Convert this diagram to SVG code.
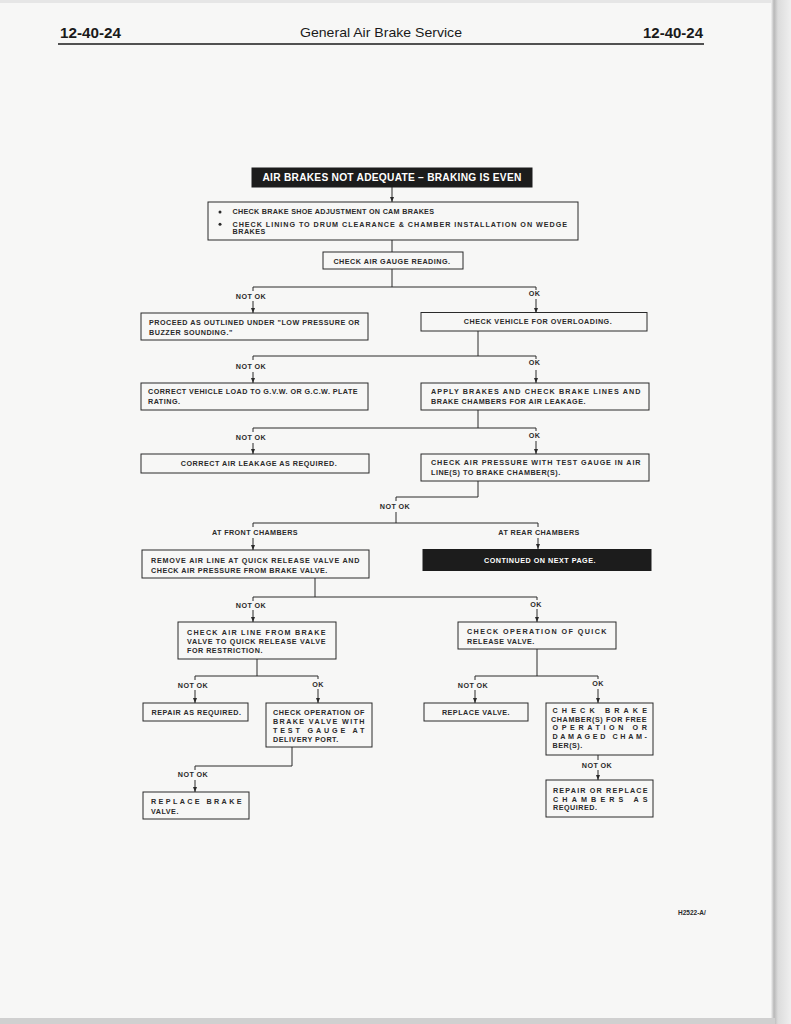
<svg xmlns="http://www.w3.org/2000/svg" width="791" height="1024" viewBox="0 0 791 1024">
<defs>
<style>
.bg{fill:#f7f7f6}
.b{fill:none;stroke:#2a2a2a;stroke-width:1}
.blk{fill:#1c1c1c;stroke:#1c1c1c;stroke-width:1}
.t{font-family:"Liberation Sans",Arial,Helvetica,sans-serif;font-weight:bold;font-size:7.2px;letter-spacing:0.5px;fill:#2a2a2a}
.tt{font-family:"Liberation Sans",Arial,Helvetica,sans-serif;font-weight:bold;font-size:10.2px;letter-spacing:0.2px;fill:#ffffff;text-anchor:middle}
.fig{font-family:"Liberation Sans",Arial,Helvetica,sans-serif;font-weight:bold;font-size:6.5px;fill:#2a2a2a}
.w{fill:#ffffff}
.c{text-anchor:middle}
.l{font-family:"Liberation Sans",Arial,Helvetica,sans-serif;font-weight:bold;font-size:7.2px;letter-spacing:0.4px;fill:#2a2a2a;text-anchor:middle}
.h{font-family:"Liberation Sans",Arial,Helvetica,sans-serif;fill:#1a1a1a}
.cn{fill:none;stroke:#2a2a2a;stroke-width:1}
.ar{marker-end:url(#ah)}
</style>
<marker id="ah" markerWidth="5" markerHeight="4" refX="5" refY="2" orient="auto" markerUnits="userSpaceOnUse">
<path d="M0,0 L5,2 L0,4 z" fill="#2a2a2a"/>
</marker>
<linearGradient id="edge" x1="0" y1="0" x2="1" y2="0">
<stop offset="0" stop-color="#f2f2f2"/>
<stop offset="0.15" stop-color="#b8b8b8"/>
<stop offset="0.35" stop-color="#dcdcdc"/>
<stop offset="1" stop-color="#efefef"/>
</linearGradient>
</defs>

<rect class="bg" x="0" y="0" width="791" height="1024"/>
<rect x="0" y="0" width="791" height="3" fill="#e6e6e6"/>
<rect x="771" y="0" width="20" height="1024" fill="url(#edge)"/>
<rect x="0" y="1018" width="775" height="6" fill="#d0d0d0"/>

<g id="header">
<text class="h" x="60" y="37.5" font-size="14.5" font-weight="bold" textLength="61" lengthAdjust="spacingAndGlyphs">12-40-24</text>
<text class="h" x="381" y="37" font-size="13.5" text-anchor="middle" textLength="162" lengthAdjust="spacingAndGlyphs">General Air Brake Service</text>
<text class="h" x="643" y="37.5" font-size="14.5" font-weight="bold" textLength="60" lengthAdjust="spacingAndGlyphs">12-40-24</text>
<line x1="58" y1="44" x2="704" y2="44" stroke="#1a1a1a" stroke-width="1.6"/>
</g>

<g id="connectors">
<path class="cn ar" d="M392,187 V202"/>
<path class="cn" d="M392,240 V252"/>
<path class="cn" d="M392,269 V287 M253,291 V287 H536 V290"/>
<path class="cn ar" d="M253,301 V313"/>
<path class="cn ar" d="M536,299 V313"/>
<path class="cn" d="M478,331 V356 M253,360 V356 H536 V359"/>
<path class="cn ar" d="M253,372 V383"/>
<path class="cn ar" d="M536,370 V383"/>
<path class="cn" d="M478,410 V428 M253,432 V428 H536 V431"/>
<path class="cn ar" d="M253,443 V454"/>
<path class="cn ar" d="M536,441 V454"/>
<path class="cn" d="M478,481 V497 H396 V501"/>
<path class="cn" d="M396,512 V523 M253,527 V523 H538 V527"/>
<path class="cn ar" d="M253,538 V550"/>
<path class="cn ar" d="M538,538 V549"/>
<path class="cn" d="M315,578 V597 M253,601 V597 H537 V600"/>
<path class="cn ar" d="M253,610 V622"/>
<path class="cn ar" d="M537,609 V622"/>
<path class="cn" d="M257,659 V676 M195,680 V676 H318 V679"/>
<path class="cn ar" d="M195,690 V703"/>
<path class="cn ar" d="M318,689 V703"/>
<path class="cn" d="M537,649 V676 M475,680 V676 H598 V679"/>
<path class="cn ar" d="M475,690 V703"/>
<path class="cn ar" d="M598,689 V703"/>
<path class="cn" d="M292,747 V766 H195 V770"/>
<path class="cn ar" d="M195,780 V792"/>
<path class="cn" d="M598,755 V760"/>
<path class="cn ar" d="M598,770 V780"/>
</g>

<g id="labels">
<text class="l" x="251" y="298.5">NOT OK</text>
<text class="l" x="534.5" y="296">OK</text>
<text class="l" x="251" y="369">NOT OK</text>
<text class="l" x="534.5" y="365">OK</text>
<text class="l" x="251" y="440">NOT OK</text>
<text class="l" x="534.5" y="438">OK</text>
<text class="l" x="395" y="509">NOT OK</text>
<text class="l" x="255" y="535">AT FRONT CHAMBERS</text>
<text class="l" x="539" y="535">AT REAR CHAMBERS</text>
<text class="l" x="251" y="607.5">NOT OK</text>
<text class="l" x="536" y="606.5">OK</text>
<text class="l" x="193" y="687.5">NOT OK</text>
<text class="l" x="318" y="686.5">OK</text>
<text class="l" x="473" y="687.5">NOT OK</text>
<text class="l" x="598" y="686">OK</text>
<text class="l" x="193" y="777">NOT OK</text>
<text class="l" x="597" y="767.5">NOT OK</text>
</g>

<g id="n-title">
<rect class="blk" x="252" y="168" width="280" height="19"/>
<text class="tt" x="392" y="181.3" textLength="259" lengthAdjust="spacing">AIR BRAKES NOT ADEQUATE – BRAKING IS EVEN</text>
</g>

<g id="n-checks">
<rect class="b" x="208" y="202" width="370" height="38"/>
<circle cx="220" cy="212" r="1.5" fill="#2a2a2a"/>
<circle cx="220" cy="224.2" r="1.5" fill="#2a2a2a"/>
<text class="t" x="232.5" y="214.4" textLength="202" lengthAdjust="spacing">CHECK BRAKE SHOE ADJUSTMENT ON CAM BRAKES</text>
<text class="t" x="232.5" y="226.6" textLength="335" lengthAdjust="spacing">CHECK LINING TO DRUM CLEARANCE &amp; CHAMBER INSTALLATION ON WEDGE</text>
<text class="t" x="232.5" y="234.4">BRAKES</text>
</g>

<g id="n-gauge">
<rect class="b" x="323" y="252" width="140" height="17"/>
<text class="t c" x="392" y="263.6">CHECK AIR GAUGE READING.</text>
</g>

<g id="n-proceed">
<rect class="b" x="141" y="313" width="227" height="27"/>
<text class="t" x="149" y="324.7" textLength="211" lengthAdjust="spacing">PROCEED AS OUTLINED UNDER "LOW PRESSURE OR</text>
<text class="t" x="149" y="334.7">BUZZER SOUNDING."</text>
</g>

<g id="n-overload">
<rect class="b" x="421" y="312.5" width="226" height="18.5"/>
<text class="t c" x="538" y="323.6">CHECK VEHICLE FOR OVERLOADING.</text>
</g>

<g id="n-vehload">
<rect class="b" x="141" y="383" width="227" height="27"/>
<text class="t" x="148" y="393.7" textLength="210" lengthAdjust="spacing">CORRECT VEHICLE LOAD TO G.V.W. OR G.C.W. PLATE</text>
<text class="t" x="148" y="403.7">RATING.</text>
</g>

<g id="n-apply">
<rect class="b" x="421" y="383" width="228" height="27"/>
<text class="t" x="431" y="394.2" textLength="210" lengthAdjust="spacing">APPLY BRAKES AND CHECK BRAKE LINES AND</text>
<text class="t" x="431" y="403.7">BRAKE CHAMBERS FOR AIR LEAKAGE.</text>
</g>

<g id="n-leak">
<rect class="b" x="141" y="454" width="228" height="19"/>
<text class="t c" x="259" y="466">CORRECT AIR LEAKAGE AS REQUIRED.</text>
</g>

<g id="n-pressure">
<rect class="b" x="421" y="454" width="228" height="27"/>
<text class="t" x="431" y="464.7" textLength="210" lengthAdjust="spacing">CHECK AIR PRESSURE WITH TEST GAUGE IN AIR</text>
<text class="t" x="431" y="475.2">LINE(S) TO BRAKE CHAMBER(S).</text>
</g>

<g id="n-remove">
<rect class="b" x="142" y="550" width="227" height="28"/>
<text class="t" x="151" y="562.7" textLength="209" lengthAdjust="spacing">REMOVE AIR LINE AT QUICK RELEASE VALVE AND</text>
<text class="t" x="151" y="573.2">CHECK AIR PRESSURE FROM BRAKE VALVE.</text>
</g>

<g id="n-continued">
<rect class="blk" x="423" y="549.5" width="228" height="21"/>
<text class="t w c" x="540" y="563">CONTINUED ON NEXT PAGE.</text>
</g>

<g id="n-airline">
<rect class="b" x="178" y="622" width="158" height="37"/>
<text class="t" x="187" y="634.5" textLength="139" lengthAdjust="spacing">CHECK AIR LINE FROM BRAKE</text>
<text class="t" x="187" y="643.5" textLength="139" lengthAdjust="spacing">VALVE TO QUICK RELEASE VALVE</text>
<text class="t" x="187" y="652.5">FOR RESTRICTION.</text>
</g>

<g id="n-quick">
<rect class="b" x="458" y="622" width="158" height="27"/>
<text class="t" x="467" y="634.2" textLength="140" lengthAdjust="spacing">CHECK OPERATION OF QUICK</text>
<text class="t" x="467" y="643.5">RELEASE VALVE.</text>
</g>

<g id="n-repair">
<rect class="b" x="143" y="703" width="105" height="18"/>
<text class="t c" x="196.5" y="714.7">REPAIR AS REQUIRED.</text>
</g>

<g id="n-brakevalve">
<rect class="b" x="266" y="703" width="106" height="44"/>
<text class="t" x="273" y="714.7" textLength="92" lengthAdjust="spacing">CHECK OPERATION OF</text>
<text class="t" x="273" y="723.7" textLength="92" lengthAdjust="spacing">BRAKE VALVE WITH</text>
<text class="t" x="273" y="732.7" textLength="92" lengthAdjust="spacing">TEST GAUGE AT</text>
<text class="t" x="273" y="741.7">DELIVERY PORT.</text>
</g>

<g id="n-replacevalve">
<rect class="b" x="424" y="703" width="104" height="18"/>
<text class="t c" x="476" y="714.5">REPLACE VALVE.</text>
</g>

<g id="n-chamber">
<rect class="b" x="546" y="703" width="107" height="52"/>
<text class="t" x="552.5" y="713.3" textLength="95" lengthAdjust="spacing">CHECK BRAKE</text>
<text class="t" x="551" y="721.7" textLength="96" lengthAdjust="spacing">CHAMBER(S) FOR FREE</text>
<text class="t" x="552.5" y="730" textLength="95" lengthAdjust="spacing">OPERATION OR</text>
<text class="t" x="552.5" y="738.6" textLength="95" lengthAdjust="spacing">DAMAGED CHAM-</text>
<text class="t" x="552.5" y="747.5">BER(S).</text>
</g>

<g id="n-replacebrake">
<rect class="b" x="143" y="792" width="106" height="27"/>
<text class="t" x="151" y="803.7" textLength="91" lengthAdjust="spacing">REPLACE BRAKE</text>
<text class="t" x="151" y="813.5">VALVE.</text>
</g>

<g id="n-repairreplace">
<rect class="b" x="546" y="780" width="107" height="37"/>
<text class="t" x="553" y="792.5" textLength="95" lengthAdjust="spacing">REPAIR OR REPLACE</text>
<text class="t" x="553" y="801.5" textLength="95" lengthAdjust="spacing">CHAMBERS AS</text>
<text class="t" x="553" y="810">REQUIRED.</text>
</g>

<text class="fig" x="678" y="915">H2522-A/</text>
</svg>
